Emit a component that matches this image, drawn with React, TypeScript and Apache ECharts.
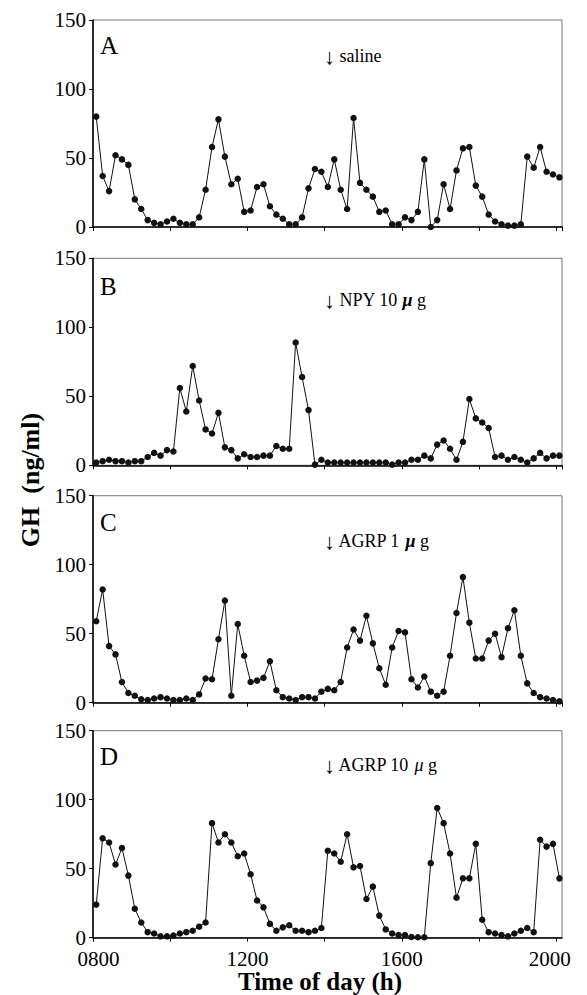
import React, { useEffect, useRef } from "react";
import * as echarts from "echarts";

// Sampling times, minutes after 08:00 (every 10 min from 08:05)
const sampleMinutes: number[] = Array.from({ length: 73 }, (_, i) => 5 + i * 10);

const panelLetters = ["A", "B", "C", "D"];

const saline = [80,37,26,52,49,45,20,13,5,3, 2,4,6,3,2,2,7,27,58,78, 51,31,35,11,12,29,31,15,9,6, 2,2,7,28,42,40,29,49,27,13, 79,32,27,22,11,12,2,2,7,5, 11,49,0,5,31,13,41,57,58,30, 22,9,4,2,1,1,2,51,43,58, 40,38,36];
const npy10 = [2,3,4,3,3,2,3,3,6,9, 7,11,10,56,39,72,47,26,23,38, 13,11,5,8,6,6,7,7,14,12, 12,89,64,40,0.5,4,2,2,2,2, 2,2,2,2,2,2,0.5,2,2,4, 4,7,5,15,18,12,4,17,48,34, 31,27,6,7,4,6,4,2,5,9, 5,7,7];
const agrp1 = [59,82,41,35,15,7,5,2.5,2,3, 4,3,2,2,3,2,6,17.5,17,46, 74,5,57,34,15,16,18,30,9,4, 3,2,4,4,3,8,10,9,15,40, 53,45,63,43,25,13,40,52,51,17, 11,19,8,5,8,34,65,91,58,32, 32,45,50,33,54,67,34,14,7,4, 3,2,1];
const agrp10 = [24,72,69,53,65,45,21,11,4,3, 1,1,1.5,3,4,5,8,11,83,69, 75,69,59,61,46,27,22,10,5,7.5, 9,5,5,4,5,7,63,61,55,75, 51,52,28,37,16,6,3,2,2,0.5, 0.3,0.3,54,94,83,61,29,43,43,68, 13,4,3,2,1,3,5,7,4,71, 66,68,43];

const panelSeries = [saline, npy10, agrp1, agrp10];
const annotations = [
  "{arr|↓}{a| saline}",
  "{arr|↓}{a| NPY 10 }{b|μ}{a| g}",
  "{arr|↓}{a| AGRP 1 }{b|μ}{a| g}",
  "{arr|↓}{a| AGRP 10 }{c|μ}{a| g}",
];

const yTicks = { min: 0, max: 150, interval: 50 };
const xRange = { min: 0, max: 729, interval: 120, labelEvery: 240 };

const FONT = "Liberation Serif";

export default function App() {
  const ref = useRef<HTMLDivElement>(null);
  useEffect(() => {
    if (!ref.current) return;
    const chart = echarts.init(ref.current, undefined, { renderer: "svg" });
    const tops = [20, 258.3, 495.7, 730.7];
    const annY = [56, 300, 541, 765];
    const letterY = [45.5, 286, 522.5, 756.5];
    const gridH = 207;
    const left = 93;
    const width = 469;

    const grids = tops.map((t) => ({
      left,
      top: t,
      width,
      height: gridH,
      show: true,
      borderColor: "#777",
      borderWidth: 1,
      backgroundColor: "transparent",
    }));

    const xAxes = tops.map((_, i) => ({
      type: "value",
      gridIndex: i,
      min: xRange.min,
      max: xRange.max,
      interval: xRange.interval,
      splitLine: { show: false },
      axisLine: { show: true, lineStyle: { color: "#000", width: 1.5 } },
      axisTick: { show: true, length: 4, lineStyle: { color: "#000", width: 1 } },
      axisLabel: {
        show: i === 3,
        color: "#000",
        fontFamily: FONT,
        fontSize: 21,
        margin: 11,
        showMaxLabel: false,
        formatter: (v: number) => {
          if (v % xRange.labelEvery !== 0) return "";
          const h = 8 + v / 60;
          const s = String(h).padStart(2, "0") + "00";
          if (v === 0) return "{l|" + s + "}";
          if (v === 720) return "{r|" + s + "}";
          return s;
        },
        rich: {
          l: { fontFamily: FONT, fontSize: 21, color: "#000", padding: [0, 0, 0, 11] },
          r: { fontFamily: FONT, fontSize: 21, color: "#000", padding: [0, 13, 0, 0] },
        },
      },
    }));

    const yAxes = tops.map((_, i) => ({
      type: "value",
      gridIndex: i,
      min: yTicks.min,
      max: yTicks.max,
      interval: yTicks.interval,
      splitLine: { show: false },
      axisLine: { show: true, lineStyle: { color: "#000", width: 1.5 } },
      axisTick: { show: true, length: 4, lineStyle: { color: "#000", width: 1 } },
      axisLabel: {
        color: "#000",
        fontFamily: FONT,
        fontSize: 21,
        margin: 7,
      },
    }));

    const series = panelSeries.map((vals, i) => ({
      type: "line",
      xAxisIndex: i,
      yAxisIndex: i,
      data: vals.map((v, j) => [sampleMinutes[j], v]),
      symbol: "circle",
      symbolSize: 6.5,
      showSymbol: true,
      itemStyle: { color: "#111" },
      lineStyle: { color: "#111", width: 1 },
      silent: true,
    }));

    const graphics: any[] = [];
    tops.forEach((_, i) => {
      graphics.push({
        type: "text",
        x: 100,
        y: letterY[i],
        style: {
          text: panelLetters[i],
          fontFamily: FONT,
          fontSize: 25,
          fill: "#000",
          verticalAlign: "middle",
        },
      });
      graphics.push({
        type: "text",
        x: 324,
        y: annY[i],
        style: {
          text: annotations[i],
          verticalAlign: "middle",
          rich: {
            arr: { fontFamily: FONT, fontSize: 22, fill: "#000", color: "#000" },
            a: { fontFamily: FONT, fontSize: 18, fill: "#000", color: "#000" },
            b: { fontFamily: FONT, fontSize: 18, fontWeight: "bold", fontStyle: "italic", fill: "#000", color: "#000" },
            c: { fontFamily: FONT, fontSize: 18, fontStyle: "italic", fill: "#000", color: "#000" },
          },
        },
      });
    });
    graphics.push({
      type: "text",
      x: 30,
      y: 480,
      rotation: Math.PI / 2,
      style: {
        text: "GH  (ng/ml)",
        fontFamily: FONT,
        fontSize: 26,
        fontWeight: "bold",
        fill: "#000",
        align: "center",
        verticalAlign: "middle",
      },
    });
    graphics.push({
      type: "text",
      x: 320,
      y: 981,
      style: {
        text: "Time of day (h)",
        fontFamily: FONT,
        fontSize: 25,
        fontWeight: "bold",
        fill: "#000",
        align: "center",
        verticalAlign: "middle",
      },
    });

    chart.setOption({
      animation: false,
      backgroundColor: "#fff",
      grid: grids,
      xAxis: xAxes,
      yAxis: yAxes,
      series,
      graphic: graphics,
    });
    return () => chart.dispose();
  }, []);
  return (
    <div
      ref={ref}
      style={{ position: "fixed", left: 0, top: 0, width: 587, height: 995, background: "#fff" }}
    />
  );
}
